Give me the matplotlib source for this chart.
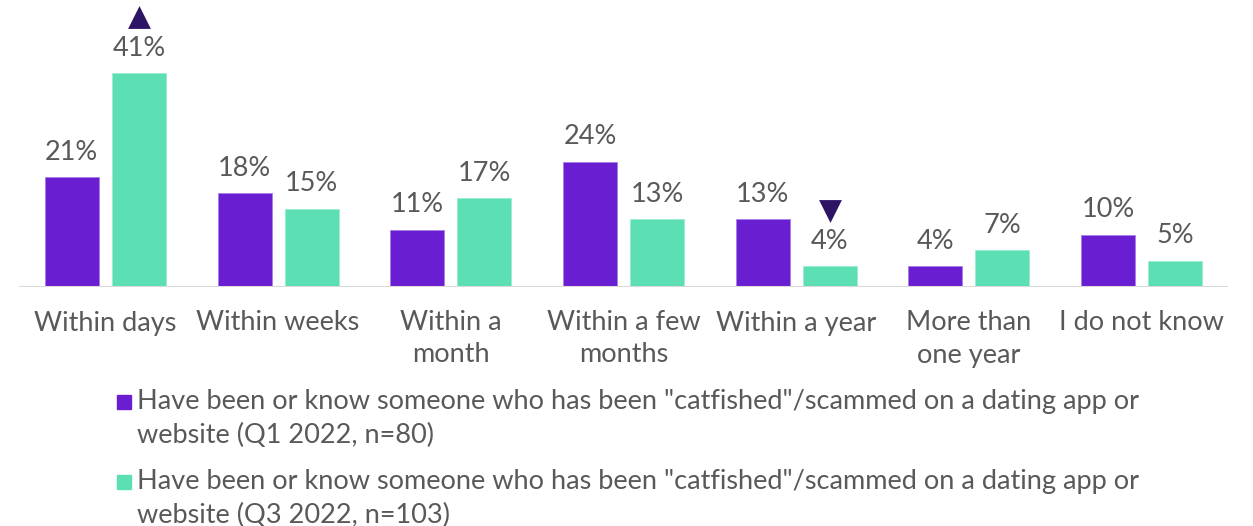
import matplotlib.pyplot as plt
import matplotlib.transforms as mtransforms
import numpy as np

categories = ["Within days", "Within weeks", "Within a\nmonth", "Within a few\nmonths",
              "Within a year", "More than\none year", "I do not know"]
q1_values = [21, 18, 11, 24, 13, 4, 10]
q3_values = [41, 15, 17, 13, 4, 7, 5]
series_names = [
    'Have been or know someone who has been "catfished"/scammed on a dating app or\nwebsite (Q1 2022, n=80)',
    'Have been or know someone who has been "catfished"/scammed on a dating app or\nwebsite (Q3 2022, n=103)',
]
# significance markers on the Q3 series: +1 = up, -1 = down
q3_sig = [1, 0, 0, 0, -1, 0, 0]

purple = "#6a1ed2"
green = "#5cdfb5"
text_col = "#595959"
marker_col = "#2e1465"

plt.rcParams['font.family'] = ['Lato', 'DejaVu Sans']
FW = "normal"

W, H = 1253, 526
fig = plt.figure(figsize=(W / 100, H / 100), dpi=100)
ax = fig.add_axes([19 / W, 1 - 287 / H, (1228 - 19) / W, 287 / H])

x = np.arange(len(categories))
bw = 0.313
off = 0.194
ax.bar(x - off, q1_values, bw, color=purple, edgecolor="#a77ee6", linewidth=0.6)
ax.bar(x + off, q3_values, bw, color=green, edgecolor="#9ceccf", linewidth=0.6)

ax.set_xlim(-0.5, len(categories) - 0.5)
ax.set_ylim(0, 55)
ax.axis("off")
ax.axhline(0, color="#d9d9d9", lw=2.2, zorder=3)

fs = 19.5
for i in range(len(categories)):
    ax.annotate(f"{q1_values[i]}%", (x[i] - off, q1_values[i]), xytext=(0, 18),
                textcoords="offset points", ha="center", va="center",
                fontsize=fs, color=text_col, fontweight=FW)
    ax.annotate(f"{q3_values[i]}%", (x[i] + off, q3_values[i]), xytext=(0, 18),
                textcoords="offset points", ha="center", va="center",
                fontsize=fs, color=text_col, fontweight=FW)
    if q3_sig[i] != 0:
        m = "^" if q3_sig[i] > 0 else "v"
        shift = mtransforms.ScaledTranslation(0, 40 / 72, fig.dpi_scale_trans)
        ax.scatter([x[i] + off], [q3_values[i]], marker=m, s=270, color=marker_col,
                   transform=ax.transData + shift, clip_on=False, zorder=4,
                   linewidths=0)

# category labels below the axis
for i, c in enumerate(categories):
    xf = ax.transData.transform((x[i], 0))[0] / W
    for j, line in enumerate(c.split("\n")):
        fig.text(xf, 1 - (323 + 32 * j) / H, line, ha="center", va="center",
                 fontsize=fs, color=text_col, fontweight=FW)

# legend
for k, (name, col) in enumerate(zip(series_names, [purple, green])):
    yc = 402 + k * 80
    fig.patches.append(plt.Rectangle((117 / W, 1 - (yc + 7) / H), 14 / W, 14 / H,
                                     transform=fig.transFigure, color=col, figure=fig))
    for j, line in enumerate(name.split("\n")):
        fig.text(137 / W, 1 - (yc + 33 * j) / H, line, ha="left", va="center",
                 fontsize=fs, color=text_col, fontweight=FW)

fig.savefig("out.png", dpi=100)
